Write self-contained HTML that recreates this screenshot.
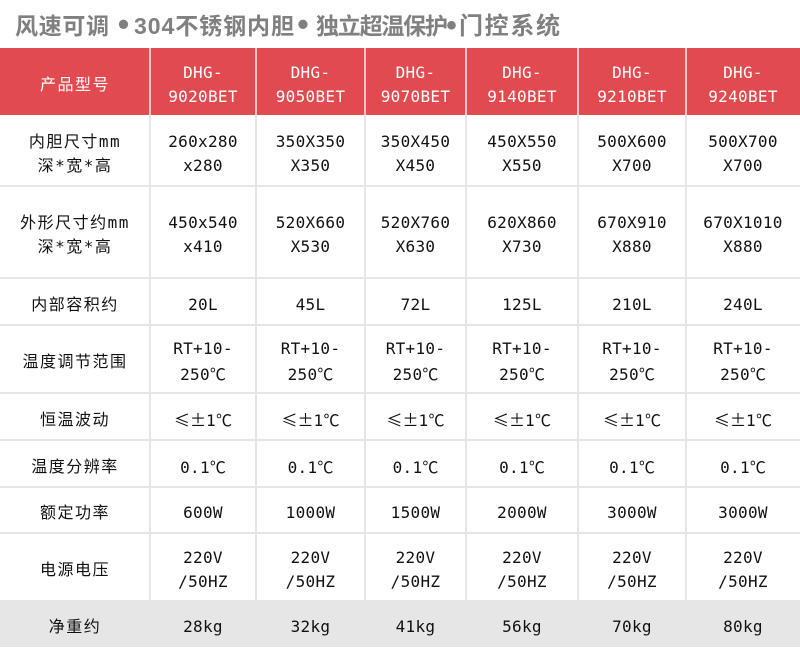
<!DOCTYPE html>
<html>
<head>
<meta charset="utf-8">
<style>
html,body{margin:0;padding:0}
body{width:800px;height:650px;position:relative;background:#fff;overflow:hidden}
.hdr{position:absolute;left:0;top:48px;width:800px;height:67px;background:#e14b50}
.gray{position:absolute;left:0;top:600px;width:800px;height:47px;background:#e6e6e6}
.hl{position:absolute;left:0;width:800px;height:2px;background:#e6e6e6}
.vl{position:absolute;width:2px;top:115px;height:485px;background:#e6e6e6}
.vw{position:absolute;width:2px;top:48px;height:67px;background:#f3c4c6}
.c{position:absolute;display:flex;align-items:center;justify-content:center;text-align:center;box-sizing:border-box;
   font-family:"DejaVu Sans Mono","Noto Sans CJK SC",monospace;font-size:16px;line-height:24px;color:#111;letter-spacing:0.3px;padding-top:6px;white-space:nowrap}
.c > div{display:block}
.l{letter-spacing:1.5px}
.w{color:#fff}
.fw{display:inline-block;width:16px;text-align:center;font-family:"Noto Sans CJK SC",sans-serif;letter-spacing:0}
.dg{font-family:"Noto Sans CJK SC",sans-serif;letter-spacing:0}
svg{position:absolute;left:0;top:0}
</style>
</head>
<body>
<svg width="800" height="48" viewBox="0 0 800 48">
  <g fill="#808080" font-family="Liberation Sans, Noto Sans CJK SC, sans-serif" font-weight="bold">
    <text x="15" y="34" font-size="23" textLength="94" lengthAdjust="spacing">风速可调</text>
    <text x="123.5" y="35" font-size="32" text-anchor="middle">•</text>
    <text x="134" y="34" font-size="23" textLength="160" lengthAdjust="spacing">304不锈钢内胆</text>
    <text x="303" y="35" font-size="32" text-anchor="middle">•</text>
    <text x="316" y="34" font-size="23" textLength="132" lengthAdjust="spacing">独立超温保护</text>
    <text x="451.5" y="35" font-size="30" text-anchor="middle">•</text>
    <text x="459" y="34" font-size="24" textLength="101" lengthAdjust="spacing">门控系统</text>
  </g>
</svg>

<div class="hdr"></div>
<div class="gray"></div>

<div class="vw" style="left:149px"></div>
<div class="vw" style="left:255px"></div>
<div class="vw" style="left:364px"></div>
<div class="vw" style="left:465px"></div>
<div class="vw" style="left:577px"></div>
<div class="vw" style="left:685px"></div>

<div class="vl" style="left:149px"></div>
<div class="vl" style="left:255px"></div>
<div class="vl" style="left:364px"></div>
<div class="vl" style="left:465px"></div>
<div class="vl" style="left:577px"></div>
<div class="vl" style="left:685px"></div>

<div class="hl" style="top:185px"></div>
<div class="hl" style="top:277px"></div>
<div class="hl" style="top:324px"></div>
<div class="hl" style="top:392px"></div>
<div class="hl" style="top:439px"></div>
<div class="hl" style="top:486px"></div>
<div class="hl" style="top:532px"></div>

<!-- Header row -->
<div class="c l w" style="left:0;width:150px;top:48px;height:67px"><div>产品型号</div></div>
<div class="c w" style="left:150px;width:106px;top:48px;height:67px"><div>DHG-<br>9020BET</div></div>
<div class="c w" style="left:256px;width:109px;top:48px;height:67px"><div>DHG-<br>9050BET</div></div>
<div class="c w" style="left:365px;width:101px;top:48px;height:67px"><div>DHG-<br>9070BET</div></div>
<div class="c w" style="left:466px;width:112px;top:48px;height:67px"><div>DHG-<br>9140BET</div></div>
<div class="c w" style="left:578px;width:108px;top:48px;height:67px"><div>DHG-<br>9210BET</div></div>
<div class="c w" style="left:686px;width:114px;top:48px;height:67px"><div>DHG-<br>9240BET</div></div>

<!-- Row 1 -->
<div class="c l" style="left:0;width:150px;top:115px;height:71px"><div>内胆尺寸mm<br>深*宽*高</div></div>
<div class="c" style="left:150px;width:106px;top:115px;height:71px"><div>260x280<br>x280</div></div>
<div class="c" style="left:256px;width:109px;top:115px;height:71px"><div>350X350<br>X350</div></div>
<div class="c" style="left:365px;width:101px;top:115px;height:71px"><div>350X450<br>X450</div></div>
<div class="c" style="left:466px;width:112px;top:115px;height:71px"><div>450X550<br>X550</div></div>
<div class="c" style="left:578px;width:108px;top:115px;height:71px"><div>500X600<br>X700</div></div>
<div class="c" style="left:686px;width:114px;top:115px;height:71px"><div>500X700<br>X700</div></div>

<!-- Row 2 -->
<div class="c l" style="left:0;width:150px;top:186px;height:92px"><div>外形尺寸约mm<br>深*宽*高</div></div>
<div class="c" style="left:150px;width:106px;top:186px;height:92px"><div>450x540<br>x410</div></div>
<div class="c" style="left:256px;width:109px;top:186px;height:92px"><div>520X660<br>X530</div></div>
<div class="c" style="left:365px;width:101px;top:186px;height:92px"><div>520X760<br>X630</div></div>
<div class="c" style="left:466px;width:112px;top:186px;height:92px"><div>620X860<br>X730</div></div>
<div class="c" style="left:578px;width:108px;top:186px;height:92px"><div>670X910<br>X880</div></div>
<div class="c" style="left:686px;width:114px;top:186px;height:92px"><div>670X1010<br>X880</div></div>

<!-- Row 3 -->
<div class="c l" style="left:0;width:150px;top:278px;height:47px"><div>内部容积约</div></div>
<div class="c" style="left:150px;width:106px;top:278px;height:47px"><div>20L</div></div>
<div class="c" style="left:256px;width:109px;top:278px;height:47px"><div>45L</div></div>
<div class="c" style="left:365px;width:101px;top:278px;height:47px"><div>72L</div></div>
<div class="c" style="left:466px;width:112px;top:278px;height:47px"><div>125L</div></div>
<div class="c" style="left:578px;width:108px;top:278px;height:47px"><div>210L</div></div>
<div class="c" style="left:686px;width:114px;top:278px;height:47px"><div>240L</div></div>

<!-- Row 4 -->
<div class="c l" style="left:0;width:150px;top:325px;height:68px"><div>温度调节范围</div></div>
<div class="c" style="left:150px;width:106px;top:325px;height:68px"><div>RT+10-<br>250<span class="dg">℃</span></div></div>
<div class="c" style="left:256px;width:109px;top:325px;height:68px"><div>RT+10-<br>250<span class="dg">℃</span></div></div>
<div class="c" style="left:365px;width:101px;top:325px;height:68px"><div>RT+10-<br>250<span class="dg">℃</span></div></div>
<div class="c" style="left:466px;width:112px;top:325px;height:68px"><div>RT+10-<br>250<span class="dg">℃</span></div></div>
<div class="c" style="left:578px;width:108px;top:325px;height:68px"><div>RT+10-<br>250<span class="dg">℃</span></div></div>
<div class="c" style="left:686px;width:114px;top:325px;height:68px"><div>RT+10-<br>250<span class="dg">℃</span></div></div>

<!-- Row 5 -->
<div class="c l" style="left:0;width:150px;top:393px;height:47px"><div>恒温波动</div></div>
<div class="c" style="left:150px;width:106px;top:393px;height:47px"><div><span class="fw">≤</span><span class="fw">±</span>1<span class="dg">℃</span></div></div>
<div class="c" style="left:256px;width:109px;top:393px;height:47px"><div><span class="fw">≤</span><span class="fw">±</span>1<span class="dg">℃</span></div></div>
<div class="c" style="left:365px;width:101px;top:393px;height:47px"><div><span class="fw">≤</span><span class="fw">±</span>1<span class="dg">℃</span></div></div>
<div class="c" style="left:466px;width:112px;top:393px;height:47px"><div><span class="fw">≤</span><span class="fw">±</span>1<span class="dg">℃</span></div></div>
<div class="c" style="left:578px;width:108px;top:393px;height:47px"><div><span class="fw">≤</span><span class="fw">±</span>1<span class="dg">℃</span></div></div>
<div class="c" style="left:686px;width:114px;top:393px;height:47px"><div><span class="fw">≤</span><span class="fw">±</span>1<span class="dg">℃</span></div></div>

<!-- Row 6 -->
<div class="c l" style="left:0;width:150px;top:440px;height:47px"><div>温度分辨率</div></div>
<div class="c" style="left:150px;width:106px;top:440px;height:47px"><div>0.1<span class="dg">℃</span></div></div>
<div class="c" style="left:256px;width:109px;top:440px;height:47px"><div>0.1<span class="dg">℃</span></div></div>
<div class="c" style="left:365px;width:101px;top:440px;height:47px"><div>0.1<span class="dg">℃</span></div></div>
<div class="c" style="left:466px;width:112px;top:440px;height:47px"><div>0.1<span class="dg">℃</span></div></div>
<div class="c" style="left:578px;width:108px;top:440px;height:47px"><div>0.1<span class="dg">℃</span></div></div>
<div class="c" style="left:686px;width:114px;top:440px;height:47px"><div>0.1<span class="dg">℃</span></div></div>

<!-- Row 7 -->
<div class="c l" style="left:0;width:150px;top:487px;height:46px"><div>额定功率</div></div>
<div class="c" style="left:150px;width:106px;top:487px;height:46px"><div>600W</div></div>
<div class="c" style="left:256px;width:109px;top:487px;height:46px"><div>1000W</div></div>
<div class="c" style="left:365px;width:101px;top:487px;height:46px"><div>1500W</div></div>
<div class="c" style="left:466px;width:112px;top:487px;height:46px"><div>2000W</div></div>
<div class="c" style="left:578px;width:108px;top:487px;height:46px"><div>3000W</div></div>
<div class="c" style="left:686px;width:114px;top:487px;height:46px"><div>3000W</div></div>

<!-- Row 8 -->
<div class="c l" style="left:0;width:150px;top:533px;height:67px"><div>电源电压</div></div>
<div class="c" style="left:150px;width:106px;top:533px;height:67px"><div>220V<br>/50HZ</div></div>
<div class="c" style="left:256px;width:109px;top:533px;height:67px"><div>220V<br>/50HZ</div></div>
<div class="c" style="left:365px;width:101px;top:533px;height:67px"><div>220V<br>/50HZ</div></div>
<div class="c" style="left:466px;width:112px;top:533px;height:67px"><div>220V<br>/50HZ</div></div>
<div class="c" style="left:578px;width:108px;top:533px;height:67px"><div>220V<br>/50HZ</div></div>
<div class="c" style="left:686px;width:114px;top:533px;height:67px"><div>220V<br>/50HZ</div></div>

<!-- Row 9 -->
<div class="c l" style="left:0;width:150px;top:600px;height:47px"><div>净重约</div></div>
<div class="c" style="left:150px;width:106px;top:600px;height:47px"><div>28kg</div></div>
<div class="c" style="left:256px;width:109px;top:600px;height:47px"><div>32kg</div></div>
<div class="c" style="left:365px;width:101px;top:600px;height:47px"><div>41kg</div></div>
<div class="c" style="left:466px;width:112px;top:600px;height:47px"><div>56kg</div></div>
<div class="c" style="left:578px;width:108px;top:600px;height:47px"><div>70kg</div></div>
<div class="c" style="left:686px;width:114px;top:600px;height:47px"><div>80kg</div></div>
</body>
</html>
